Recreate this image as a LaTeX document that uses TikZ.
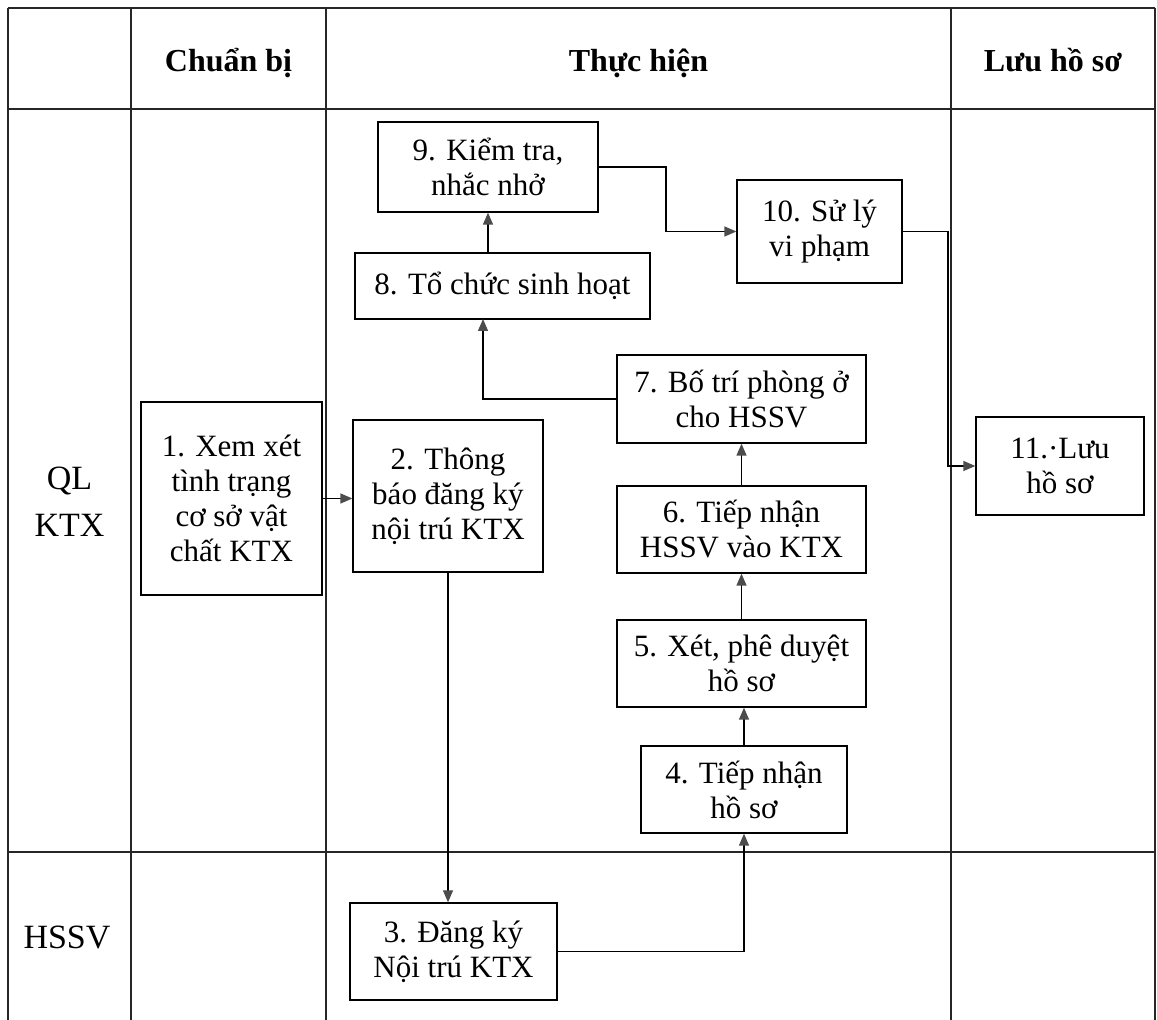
\documentclass[tikz,border=0pt]{standalone}
\usepackage{fontspec}
\setmainfont{Liberation Serif}
\usetikzlibrary{arrows.meta,calc}
\begin{document}
\begin{tikzpicture}[x=0.5pt,y=-0.5pt,
  box/.style={draw=black, line width=0.65pt, align=center, inner sep=0pt, font=\fontsize{15.5}{17.5}\selectfont},
  sz/.style 2 args={minimum width=#1*0.5pt, minimum height=#2*0.5pt},
  conn/.style={draw=black, line width=0.65pt, -{Triangle[length=6pt,width=5pt,color=black!70]}},
  grid/.style={draw=black!85, line width=0.6pt},
  head/.style={font=\fontsize{16}{19}\selectfont\bfseries, anchor=base},
  lane/.style={font=\fontsize{17}{23.5}\selectfont, align=center}]
\useasboundingbox (0,0) rectangle (1157,1020);
% table grid
\draw[grid] (8,8) -- (1155,8);
\draw[grid] (8,109) -- (1155,109);
\draw[grid] (8,852) -- (1155,852);
\foreach \xx in {8,131,326,951,1155} \draw[grid] (\xx,8) -- (\xx,1020);
% headers
\node[head] (h1) at (228.5,72) {Chuẩn bị};
\node[head] (h2) at (638.5,72) {Thực hiện};
\node[head] (h3) at (1053,72) {Lưu hồ sơ};
\node[lane] (l1) at (69.5,502) {QL\\KTX};
\node[lane] (l2) at (67,938) {HSSV};
% process boxes
\node[box, sz={181}{193}] (n1) at (231.5,498.5) {1. Xem xét\\tình trạng\\cơ sở vật\\chất KTX};
\node[box, sz={190}{152}] (n2) at (448,496) {2. Thông\\báo đăng ký\\nội trú KTX};
\node[box, sz={207}{97}] (n3) at (453.5,951.5) {3. Đăng ký\\Nội trú KTX};
\node[box, sz={206}{87}] (n4) at (744,789.5) {4. Tiếp nhận\\hồ sơ};
\node[box, sz={249}{87}] (n5) at (741.5,663.5) {5. Xét, phê duyệt\\hồ sơ};
\node[box, sz={249}{87}] (n6) at (741.5,529.5) {6. Tiếp nhận\\HSSV vào KTX};
\node[box, sz={249}{88}] (n7) at (741.5,399) {7. Bố trí phòng ở\\cho HSSV};
\node[box, sz={295}{66}] (n8) at (502.5,286) {8. Tổ chức sinh hoạt};
\node[box, sz={220}{90}] (n9) at (488,167) {9. Kiểm tra,\\nhắc nhở};
\node[box, sz={165}{103}] (n10) at (819.5,231.5) {10. Sử lý\\vi phạm};
\node[box, sz={168}{98}] (n11) at (1060,466) {11.·Lưu\\hồ sơ};
% connector bends
\coordinate (c78) at (483,319);
\coordinate (c910) at (666,0);
\coordinate (c1011) at (948,0);
% connectors
\draw[conn] (n1.east) -- (n1.east -| n2.west);
\draw[conn] (n2.south) -- (n2.south |- n3.north);
\draw[conn] (n3.east) -| (n4.south);
\draw[conn] (n4.north) -- (n4.north |- n5.south);
\draw[conn] (n5.north) -- (n6.south);
\draw[conn] (n6.north) -- (n7.south);
\draw[conn] (n7.west) -| (c78);
\draw[conn] (n9.south |- n8.north) -- (n9.south);
\draw[conn] (n9.east) -- (n9.east -| c910) |- (n10.west);
\draw[conn] (n10.east) -- (n10.east -| c1011) |- (n11.west);
\end{tikzpicture}
\end{document}
